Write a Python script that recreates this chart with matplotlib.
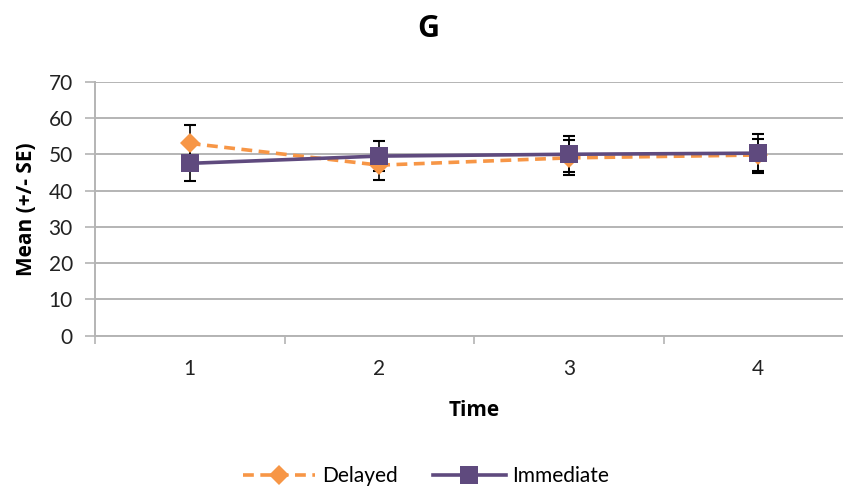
import matplotlib
matplotlib.use("Agg")
import matplotlib.pyplot as plt

plt.rcParams['font.family'] = ['Lato', 'DejaVu Sans']

times = [1, 2, 3, 4]
time_labels = ["1", "2", "3", "4"]
delayed = [53.0, 47.0, 49.0, 49.8]
delayed_se = [5.0, 4.2, 4.8, 4.3]
immediate = [47.5, 49.5, 50.0, 50.3]
immediate_se = [5.0, 4.2, 5.0, 5.4]
y_ticks = [0, 10, 20, 30, 40, 50, 60, 70]

orange = "#F79646"
purple = "#5F4A7E"
grid_c = "#B4B4B4"
bold_font = ['Open Sans', 'DejaVu Sans']

fig = plt.figure(figsize=(8.43, 4.88), dpi=100)
ax = fig.add_axes([0.1127, 0.3121, 0.8992, 0.5205])

# error bars first so the markers sit on top
ax.errorbar(times, delayed, yerr=delayed_se, fmt='none', ecolor='black',
            elinewidth=1.2, capsize=4.5, capthick=1.5, zorder=3)
ax.errorbar(times, immediate, yerr=immediate_se, fmt='none', ecolor='black',
            elinewidth=1.2, capsize=4.5, capthick=1.5, zorder=3)

ax.plot(times, delayed, color=orange, lw=2.6, dashes=(3, 1.8),
        marker='D', markersize=10, markeredgewidth=0, zorder=4, label="Delayed")
ax.plot(times, immediate, color=purple, lw=2.6,
        marker='s', markersize=13, markeredgewidth=0, zorder=5, label="Immediate")

ax.set_xlim(0.5, 4.5)
ax.set_ylim(0, 70)
ax.set_yticks(y_ticks)
ax.set_xticks(times)
ax.set_xticklabels(time_labels)
ax.set_xticks([0.5, 1.5, 2.5, 3.5, 4.5], minor=True)
ax.tick_params(axis='x', which='major', length=0, pad=17, labelsize=15, colors='#222222')
ax.tick_params(axis='x', which='minor', length=6, width=1.2, color=grid_c, direction='out')
ax.tick_params(axis='y', length=7, width=1.2, color=grid_c, pad=9, labelsize=15,
               labelcolor='#222222')

ax.yaxis.grid(True, color=grid_c, lw=1.4)
ax.set_axisbelow(True)
for s in ['top', 'right']:
    ax.spines[s].set_visible(False)
for s in ['left', 'bottom']:
    ax.spines[s].set_color(grid_c)
    ax.spines[s].set_linewidth(1.4)

ax.set_ylabel("Mean (+/- SE)", fontsize=15, fontweight='bold', family=bold_font, labelpad=8)
ax.set_xlabel("Time", fontsize=15, fontweight='bold', family=bold_font, labelpad=15)
fig.text(0.508, 0.94, "G", fontsize=22, fontweight='bold', family=bold_font,
         ha='center', va='center')

fig.legend(loc='center', bbox_to_anchor=(0.505, 0.025), ncol=2, frameon=False,
           fontsize=15, handlelength=3.5, columnspacing=1.7, handletextpad=0.3)

fig.savefig("out.png", dpi=100)
